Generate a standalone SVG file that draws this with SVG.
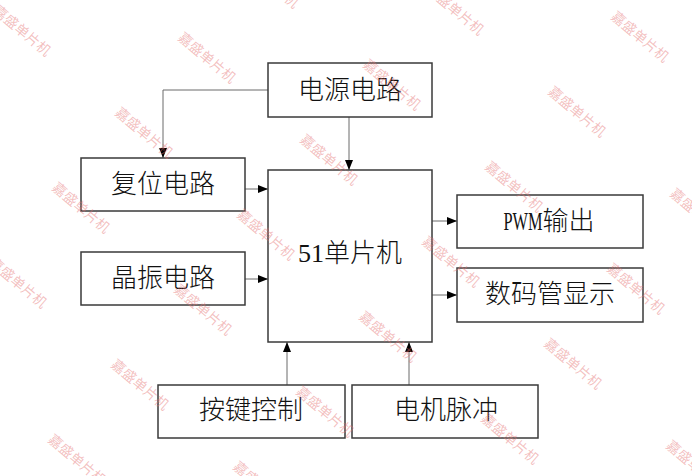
<svg xmlns="http://www.w3.org/2000/svg" width="692" height="476" viewBox="0 0 692 476">
<style>
.box{fill:none;stroke:#3a3a3a;stroke-width:1.5}
.lbl{font-family:"Liberation Serif","Noto Sans CJK SC",serif;font-size:26px;font-weight:300;fill:#111;text-anchor:middle}
.conn{fill:none;stroke:#6a6a6a;stroke-width:1;marker-end:url(#arr)}
.wm{font-family:"Noto Sans CJK SC",sans-serif;font-size:14px;fill:#e57373;fill-opacity:0.45}
</style>
<defs>
<marker id="arr" markerUnits="userSpaceOnUse" markerWidth="11" markerHeight="9" refX="10" refY="4" orient="auto">
<path d="M0,0 L10,4 L0,8 z" fill="#000"/>
</marker>
</defs>
<rect width="692" height="476" fill="#fff"/>
<g id="connectors">
<polyline class="conn" points="268,90 163,90 163,158"/>
<line class="conn" x1="349" y1="117" x2="349" y2="170"/>
<line class="conn" x1="245" y1="189" x2="268" y2="189"/>
<line class="conn" x1="245" y1="279" x2="268" y2="279"/>
<line class="conn" x1="432" y1="221" x2="457" y2="221"/>
<line class="conn" x1="432" y1="295" x2="457" y2="295"/>
<line class="conn" x1="287" y1="385" x2="287" y2="342"/>
<line class="conn" x1="409" y1="385" x2="409" y2="342"/>
</g>
<g id="power"><rect class="box" x="268" y="63" width="164" height="54"/><text class="lbl" x="350" y="99">电源电路</text></g>
<g id="reset"><rect class="box" x="81" y="158" width="164" height="53"/><text class="lbl" x="163" y="193">复位电路</text></g>
<g id="mcu"><rect class="box" x="268" y="170" width="164" height="172"/><text class="lbl" x="350" y="262">51单片机</text></g>
<g id="crystal"><rect class="box" x="81" y="252" width="164" height="53"/><text class="lbl" x="163" y="287">晶振电路</text></g>
<g id="pwm"><rect class="box" x="457" y="195" width="186" height="53"/><text class="lbl" x="549" y="230"><tspan textLength="39" lengthAdjust="spacingAndGlyphs">PWM</tspan>输出</text></g>
<g id="display"><rect class="box" x="457" y="268" width="186" height="54"/><text class="lbl" x="550" y="303">数码管显示</text></g>
<g id="keys"><rect class="box" x="158" y="385" width="187" height="53"/><text class="lbl" x="251" y="419">按键控制</text></g>
<g id="motor"><rect class="box" x="352" y="385" width="186" height="53"/><text class="lbl" x="446" y="419">电机脉冲</text></g>
<g id="watermark">
<text class="wm" transform="translate(240,-36) rotate(40)">嘉盛单片机</text>
<text class="wm" transform="translate(425,-9) rotate(40)">嘉盛单片机</text>
<text class="wm" transform="translate(610,18) rotate(40)">嘉盛单片机</text>
<text class="wm" transform="translate(-8,12) rotate(40)">嘉盛单片机</text>
<text class="wm" transform="translate(177,39) rotate(40)">嘉盛单片机</text>
<text class="wm" transform="translate(362,66) rotate(40)">嘉盛单片机</text>
<text class="wm" transform="translate(547,93) rotate(40)">嘉盛单片机</text>
<text class="wm" transform="translate(114,114) rotate(40)">嘉盛单片机</text>
<text class="wm" transform="translate(299,141) rotate(40)">嘉盛单片机</text>
<text class="wm" transform="translate(484,168) rotate(40)">嘉盛单片机</text>
<text class="wm" transform="translate(669,195) rotate(40)">嘉盛单片机</text>
<text class="wm" transform="translate(51,189) rotate(40)">嘉盛单片机</text>
<text class="wm" transform="translate(236,216) rotate(40)">嘉盛单片机</text>
<text class="wm" transform="translate(421,243) rotate(40)">嘉盛单片机</text>
<text class="wm" transform="translate(606,270) rotate(40)">嘉盛单片机</text>
<text class="wm" transform="translate(-12,264) rotate(40)">嘉盛单片机</text>
<text class="wm" transform="translate(173,291) rotate(40)">嘉盛单片机</text>
<text class="wm" transform="translate(358,318) rotate(40)">嘉盛单片机</text>
<text class="wm" transform="translate(543,345) rotate(40)">嘉盛单片机</text>
<text class="wm" transform="translate(110,366) rotate(40)">嘉盛单片机</text>
<text class="wm" transform="translate(295,393) rotate(40)">嘉盛单片机</text>
<text class="wm" transform="translate(480,420) rotate(40)">嘉盛单片机</text>
<text class="wm" transform="translate(665,447) rotate(40)">嘉盛单片机</text>
<text class="wm" transform="translate(47,441) rotate(40)">嘉盛单片机</text>
<text class="wm" transform="translate(232,468) rotate(40)">嘉盛单片机</text>
</g>
</svg>
